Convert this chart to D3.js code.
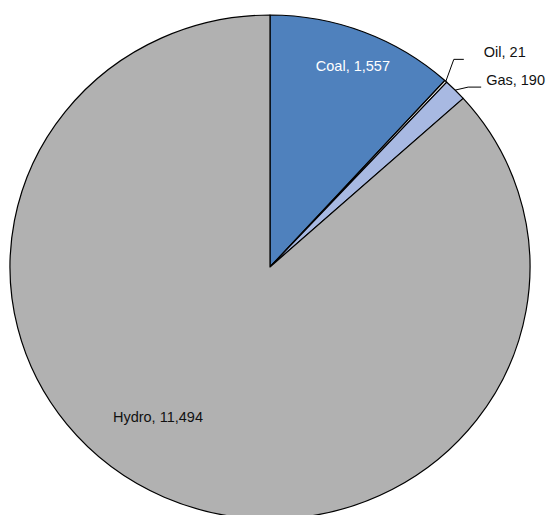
<!DOCTYPE html>
<html>
<head>
<meta charset="utf-8">
<script src="https://cdn.jsdelivr.net/npm/d3@7"></script>
<style>
  html, body { margin: 0; padding: 0; background: #ffffff; }
  svg { display: block; }
  text { font-family: "Liberation Sans", Arial, sans-serif; }
</style>
</head>
<body>
<svg id="chart" width="547" height="515"></svg>
<script>
// Electricity generation by source
const categories = ["Coal", "Oil", "Gas", "Hydro"];
const values = [1557, 21, 190, 11494];
const valueLabels = ["1,557", "21", "190", "11,494"];
const colors = ["#4F81BD", "#F2F2F2", "#A8B9E2", "#B1B1B1"];

const width = 547, height = 515;
const cx = 270, cy = 267;
const rx = 260, ry = 252;          // slightly flattened pie
const sy = ry / rx;

const data = categories.map((c, i) => ({ name: c, value: values[i], label: valueLabels[i], color: colors[i] }));

const pie = d3.pie().sort(null).value(d => d.value);
const arcs = pie(data);
const arc = d3.arc().innerRadius(0).outerRadius(rx);

const svg = d3.select("#chart");

const g = svg.append("g").attr("transform", `translate(${cx},${cy}) scale(1,${sy})`);
g.selectAll("path.slice")
  .data(arcs)
  .enter().append("path")
  .attr("class", "slice")
  .attr("d", arc)
  .attr("fill", d => d.data.color)
  .attr("stroke", "#000")
  .attr("stroke-width", 1.2)
  .attr("stroke-linejoin", "round");

// point on the (flattened) pie at a given angle and radius
function pt(angle, r) {
  return [cx + r * Math.sin(angle), cy - r * Math.cos(angle) * sy];
}
const mid = d => (d.startAngle + d.endAngle) / 2;
const deg = Math.PI / 180;

const fontSize = 14.5;

// Coal label inside its slice
const coal = arcs[0];
const pc = pt(mid(coal) + 0.8 * deg, 222);
svg.append("text")
  .attr("x", pc[0]).attr("y", pc[1])
  .attr("text-anchor", "middle")
  .attr("dominant-baseline", "middle")
  .attr("font-size", fontSize)
  .attr("fill", "#ffffff")
  .text(`${coal.data.name}, ${coal.data.label}`);

// Hydro label inside its slice
const hydro = arcs[3];
const ph = pt(215.7 * deg, 192);
svg.append("text")
  .attr("x", ph[0]).attr("y", ph[1])
  .attr("text-anchor", "middle")
  .attr("dominant-baseline", "middle")
  .attr("font-size", fontSize)
  .attr("fill", "#111")
  .text(`${hydro.data.name}, ${hydro.data.label}`);

// Oil and Gas labels outside with leader lines
const oil = arcs[1], gas = arcs[2];
const oilEdge = pt(mid(oil), rx);
const oilBend = [oilEdge[0] + 8, oilEdge[1] - 22];
const oilEnd = [oilBend[0] + 10, oilBend[1]];
svg.append("polyline")
  .attr("points", [oilEdge, oilBend, oilEnd].map(p => p.join(",")).join(" "))
  .attr("fill", "none").attr("stroke", "#000").attr("stroke-width", 1);
svg.append("text")
  .attr("x", oilEnd[0] + 20).attr("y", oilBend[1] - 2.5)
  .attr("font-size", fontSize)
  .attr("fill", "#111")
  .text(`${oil.data.name},  ${oil.data.label}`);

const gasEdge = pt(mid(gas), rx);
const gasBend = [gasEdge[0] + 13, gasEdge[1] - 3];
const gasEnd = [gasBend[0] + 13, gasBend[1]];
svg.append("polyline")
  .attr("points", [gasEdge, gasBend, gasEnd].map(p => p.join(",")).join(" "))
  .attr("fill", "none").attr("stroke", "#000").attr("stroke-width", 1);
svg.append("text")
  .attr("x", gasEnd[0] + 5).attr("y", gasBend[1] - 1.7)
  .attr("font-size", fontSize)
  .attr("fill", "#111")
  .text(`${gas.data.name}, ${gas.data.label}`);
</script>
</body>
</html>
